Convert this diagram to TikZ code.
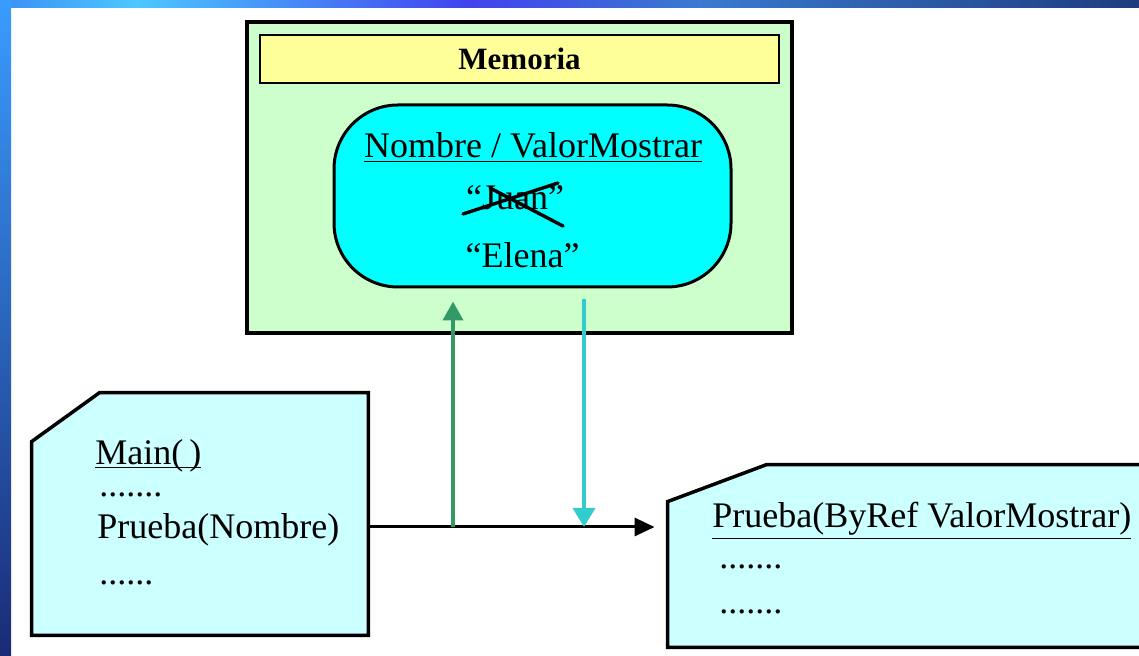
\documentclass[tikz,border=0pt]{standalone}
\usepackage{fontspec}
\setmainfont{Liberation Serif}
\usetikzlibrary{arrows.meta, positioning, calc}
\definecolor{memfill}{HTML}{CCFFCC}
\definecolor{headfill}{HTML}{FFFF99}
\definecolor{varfill}{HTML}{00FFFF}
\definecolor{codefill}{HTML}{CCFFFF}
\definecolor{toline}{HTML}{339966}
\definecolor{backline}{HTML}{33CCCC}
\definecolor{bandA}{HTML}{3A8FF5}
\definecolor{bandB}{HTML}{4CC8FF}
\definecolor{bandC}{HTML}{4242EE}
\definecolor{bandD}{HTML}{3A7AD0}
\definecolor{bandE}{HTML}{1E3C7E}
\definecolor{sideA}{HTML}{3A9CFF}
\definecolor{sideB}{HTML}{2462C8}
\definecolor{sideC}{HTML}{1A2B76}
\pgfdeclarehorizontalshading{topband}{100bp}{color(0bp)=(bandA); color(25bp)=(bandA);
  color(31bp)=(bandB); color(45.6bp)=(bandC); color(55.7bp)=(bandD);
  color(75bp)=(bandE); color(100bp)=(bandE)}
\newcommand{\codesize}{\fontsize{18}{21}\selectfont}
\tikzset{
  memframe/.style = {draw, line width=1.9pt, fill=memfill},
  memhead/.style  = {draw, line width=1.1pt, fill=headfill, font=\fontsize{15.5}{18}\selectfont\bfseries},
  varbox/.style   = {draw, line width=1.5pt, fill=varfill, rounded corners=32pt},
  codebox/.style  = {draw, line width=1.75pt, fill=codefill},
  hold/.style     = {inner sep=0pt},
  lbl/.style      = {font=\codesize, inner sep=0pt},
  ln/.style       = {lbl, anchor=base west},
  strike/.style   = {line width=1.7pt, line cap=round},
  call/.style     = {-{Triangle[length=10pt, width=9pt]}, line width=1.5pt},
  toref/.style    = {-{Triangle[length=9.5pt, width=10pt]}, draw=toline, line width=2pt},
  fromref/.style  = {-{Triangle[length=9.5pt, width=11pt]}, draw=backline, line width=1.75pt}
}

\begin{document}
\begin{tikzpicture}[x=0.5pt, y=-0.5pt]
  \useasboundingbox (0,0) rectangle (1139,656);
  \clip (0,0) rectangle (1139,656);
  \fill[white] (0,0) rectangle (1139,656);
  \shade[shading=topband] (0,0) rectangle (1139,8);
  \shade[top color=sideA, middle color=sideB, bottom color=sideC] (0,0) rectangle (11,656);

  \node[memframe, minimum width=272.5pt, minimum height=155.5pt] (mem) at (519.5,177.5) {};
  \node[memhead, minimum width=259.5pt, minimum height=24pt] (head) at (519.5,59) {Memoria};
  \node[varbox, minimum width=198.5pt, minimum height=91pt] (var) at (532.5,196) {};
  \node[lbl, anchor=base] (names) at (533,158) {\underline{Nombre / ValorMostrar}};
  \node[lbl, anchor=base] (old) at (515,210) {“Juan”};
  \node[lbl, anchor=base] (new) at (522.5,268) {“Elena”};
  \draw[strike] ($(old.base)+(-52,4)$) -- ($(old.base)+(43,-27)$);
  \draw[strike] ($(old.base)+(-25,-22)$) -- ($(old.base)+(48,16)$);

  \node[hold, minimum width=168pt, minimum height=121pt] (main) at (200,514) {};
  \draw[codebox] ([yshift=-24.5pt]main.north west) -- ([xshift=34pt]main.north west)
       -- (main.north east) -- (main.south east) -- (main.south west) -- cycle;
  \node[ln] (mainhd) at (95,465) {\underline{\smash{Main(\,)}}};
  \node[ln] (maindots) at (99,497) {.......};
  \node[ln] (callln) at (97,539) {Prueba(Nombre)};
  \node[ln] (maindots2) at (99,584) {......};

  \node[hold, minimum width=241pt, minimum height=91pt] (proc) at (909,556) {};
  \draw[codebox] ([yshift=-18.5pt]proc.north west) -- ([xshift=49.5pt]proc.north west)
       -- (proc.north east) -- (proc.south east) -- (proc.south west) -- cycle;
  \node[ln] (prochd) at (712,528) {\underline{Prueba(ByRef ValorMostrar)}};
  \node[ln] (procdots) at (719,568) {.......};
  \node[ln] (procdots2) at (719,613) {.......};

  \coordinate (gfoot) at (453,527);
  \coordinate (cfoot) at (584,527);
  \draw[call, shorten >=6.5pt] (main.east |- gfoot) -- (proc.west |- gfoot);
  \draw[toref, shorten >=6.5pt] (gfoot) -- (gfoot |- var.south);
  \draw[fromref, shorten <=5.5pt] (cfoot |- var.south) -- (cfoot);
\end{tikzpicture}
\end{document}
